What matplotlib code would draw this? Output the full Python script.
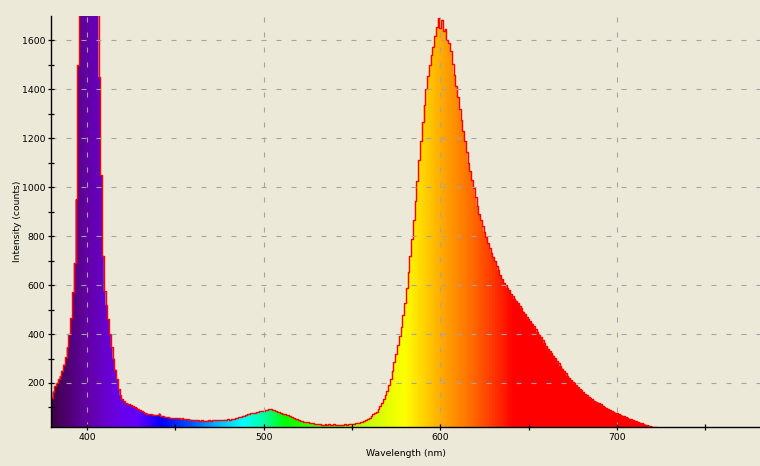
import numpy as np
import matplotlib
matplotlib.use('Agg')
import matplotlib.pyplot as plt
from matplotlib.colors import LinearSegmentedColormap, Normalize

plt.rcParams['font.family'] = ['DejaVu Sans']
plt.rcParams['font.size'] = 6.7
plt.rcParams['lines.scale_dashes'] = False

# 光谱数据 (波长 nm, 强度 counts), 1 nm 间隔
wavelength = list(range(380, 723))
intensity = [
    140, 165, 186, 200, 215, 228, 250, 275, 305, 345,        # 380-389
    400, 465, 570, 690, 950, 1500, 2200, 2800, 3100, 3300,   # 390-399
    3500, 3450, 3300, 3000, 2600, 2200, 1800, 1450, 1050, 720,  # 400-409
    575, 520, 460, 400, 345, 300, 255, 215, 175, 150,        # 410-419
    135, 125, 118, 116, 113, 108, 104, 100, 97, 92,          # 420-429
    88, 84, 82, 78, 75, 73, 72, 71, 70, 68,                  # 430-439
    68, 75, 66, 63, 62, 60, 59, 58, 57, 57,                  # 440-449
    56, 57, 55, 54, 55, 53, 52, 51, 50, 50,                  # 450-459
    49, 48, 49, 47, 46, 47, 46, 45, 46, 47,                  # 460-469
    46, 48, 47, 49, 48, 47, 49, 48, 50, 49,                  # 470-479
    51, 50, 52, 53, 55, 57, 60, 62, 65, 67,                  # 480-489
    70, 72, 74, 76, 77, 79, 80, 83, 85, 86,                  # 490-499
    87, 89, 90, 92, 93, 91, 88, 85, 82, 80,                  # 500-509
    78, 75, 72, 70, 69, 65, 60, 56, 53, 51,                  # 510-519
    49, 46, 44, 42, 40, 39, 38, 36, 35, 33,                  # 520-529
    32, 31, 31, 30, 30, 31, 30, 31, 30, 29,                  # 530-539
    31, 30, 30, 29, 29, 30, 31, 30, 31, 32,                  # 540-549
    33, 34, 35, 37, 38, 40, 42, 46, 50, 54,                  # 550-559
    58, 65, 72, 76, 82, 92, 105, 120, 135, 150,              # 560-569
    168, 190, 215, 248, 285, 320, 355, 390, 430, 478,        # 570-579
    525, 590, 655, 720, 790, 865, 945, 1025, 1110, 1190,     # 580-589
    1265, 1335, 1400, 1455, 1500, 1540, 1575, 1620, 1655, 1690,  # 590-599
    1650, 1685, 1640, 1645, 1600, 1590, 1555, 1505, 1460, 1415,  # 600-609
    1370, 1320, 1275, 1230, 1190, 1145, 1100, 1065, 1030, 995,   # 610-619
    960, 925, 890, 865, 840, 818, 795, 772, 750, 733,        # 620-629
    716, 698, 680, 660, 640, 625, 610, 600, 590, 578,        # 630-639
    565, 555, 545, 536, 527, 516, 505, 492, 480, 470,        # 640-649
    460, 452, 443, 432, 420, 409, 398, 386, 375, 362,        # 650-659
    350, 340, 330, 321, 312, 301, 290, 280, 270, 259,        # 660-669
    248, 239, 230, 221, 212, 205, 198, 190, 183, 176,        # 670-679
    170, 162, 155, 150, 144, 138, 133, 128, 124, 120,        # 680-689
    117, 112, 107, 102, 97, 93, 89, 85, 82, 79,              # 690-699
    76, 73, 70, 67, 64, 61, 58, 54, 51, 48,                  # 700-709
    46, 43, 40, 37, 35, 32, 30, 28, 26, 24,                  # 710-719
    22, 20, 18,                                              # 720-722
]

xmin, xmax = 379.6, 781
ymin, ymax = 20, 1700

# 波长对应的颜色
spec_nm = [379, 400, 415, 428, 442, 458, 475, 488, 500, 512, 535, 560, 580, 600, 620, 642, 782]
spec_col = ['#3c0046', '#6400a8', '#6a00e0', '#6400ff', '#0000ff', '#0050ff', '#00c0ff',
            '#00ffff', '#00ffa0', '#00ff00', '#60ff00', '#c8ff00', '#ffff00', '#ffad00',
            '#ff6400', '#ff0000', '#ff0000']
w0, w1 = spec_nm[0], spec_nm[-1]
cmap = LinearSegmentedColormap.from_list(
    'spec', [((w - w0) / (w1 - w0), c) for w, c in zip(spec_nm, spec_col)])

bg = '#ece9d8'
fig = plt.figure(figsize=(7.6, 4.66), dpi=100, facecolor=bg)
ax = fig.add_axes([51 / 760, 39 / 466, 709 / 760, 411 / 466], facecolor=bg)

# 渐变填充, 用曲线下方区域裁剪
grad = np.linspace(xmin, xmax, 1000).reshape(1, -1)
im = ax.imshow(grad, extent=[xmin, xmax, ymin, ymax], aspect='auto', origin='lower',
               cmap=cmap, norm=Normalize(w0, w1), interpolation='bilinear', zorder=1)
poly = ax.fill_between(wavelength, 0, intensity, step='mid', facecolor='none',
                       edgecolor='none')
im.set_clip_path(poly.get_paths()[0], transform=ax.transData)
ax.plot(wavelength, intensity, drawstyle='steps-mid', color='#ff0000', lw=1.0, zorder=2)

ax.set_xlim(xmin, xmax)
ax.set_ylim(ymin, ymax)
ax.set_xticks([400, 500, 600, 700])
ax.set_xticks([450, 550, 650, 750], minor=True)
ax.set_yticks(range(200, 1700, 200))
ax.set_yticks(range(100, 1700, 200), minor=True)
ax.tick_params(which='both', direction='inout', length=4, width=0.9, color='black',
               pad=2, labelsize=6.7)

ax.set_axisbelow(False)
ax.grid(True, which='major', color='#a4a4a4', lw=0.8, linestyle=(0, (3.6, 7.2)))

for s in ['top', 'right']:
    ax.spines[s].set_visible(False)
for s in ['left', 'bottom']:
    ax.spines[s].set_linewidth(1.0)

ax.set_xlabel('Wavelength (nm)', labelpad=5)
ax.set_ylabel('Intensity (counts)', labelpad=0)

fig.savefig('out.png', dpi=100, facecolor=bg)
